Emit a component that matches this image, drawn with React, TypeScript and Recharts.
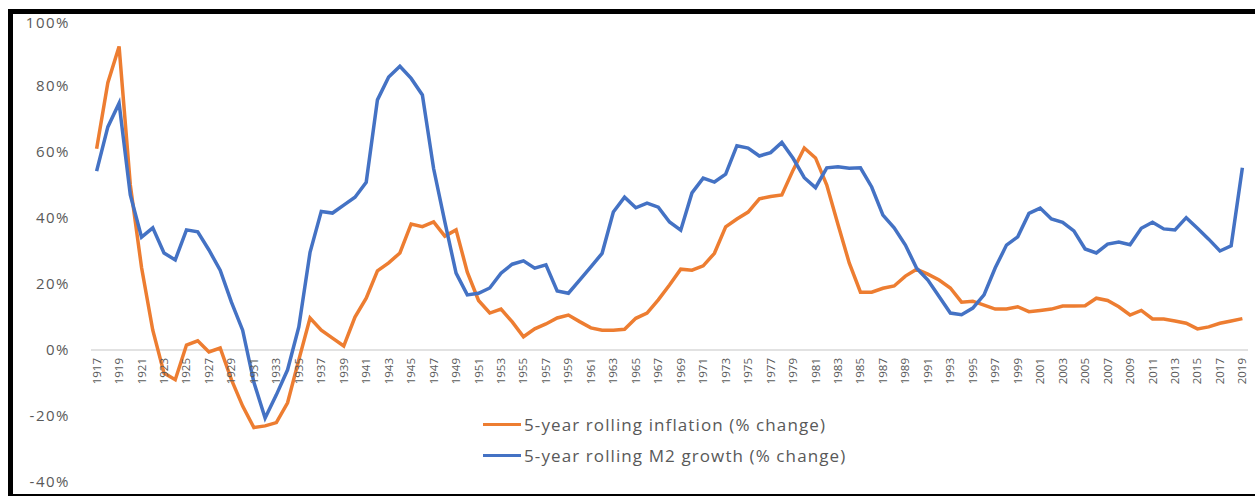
import { LineChart, Line, XAxis, YAxis, ReferenceLine, Legend } from 'recharts'

const years = [
  1917, 1918, 1919, 1920, 1921, 1922, 1923, 1924, 1925, 1926,
  1927, 1928, 1929, 1930, 1931, 1932, 1933, 1934, 1935, 1936,
  1937, 1938, 1939, 1940, 1941, 1942, 1943, 1944, 1945, 1946,
  1947, 1948, 1949, 1950, 1951, 1952, 1953, 1954, 1955, 1956,
  1957, 1958, 1959, 1960, 1961, 1962, 1963, 1964, 1965, 1966,
  1967, 1968, 1969, 1970, 1971, 1972, 1973, 1974, 1975, 1976,
  1977, 1978, 1979, 1980, 1981, 1982, 1983, 1984, 1985, 1986,
  1987, 1988, 1989, 1990, 1991, 1992, 1993, 1994, 1995, 1996,
  1997, 1998, 1999, 2000, 2001, 2002, 2003, 2004, 2005, 2006,
  2007, 2008, 2009, 2010, 2011, 2012, 2013, 2014, 2015, 2016,
  2017, 2018, 2019,
]

// 5-year rolling inflation, % change
const inflation = [
  61, 81, 92, 50, 25, 6, -7, -9, 1.5, 2.8,
  -0.6, 0.6, -9, -17, -23.5, -23, -22, -16, -3, 9.7,
  6, 3.6, 1.2, 10, 15.7, 24, 26.4, 29.4, 38.2, 37.4,
  38.8, 34.5, 36.4, 23.6, 15, 11.2, 12.4, 8.5, 4, 6.4,
  7.9, 9.7, 10.6, 8.6, 6.7, 6, 6, 6.3, 9.6, 11.2,
  15.2, 19.7, 24.5, 24.2, 25.5, 29.3, 37.3, 39.7, 41.8, 45.8,
  46.5, 47, 54.5, 61.2, 58.2, 50, 38, 26.4, 17.5, 17.5,
  18.7, 19.4, 22.4, 24.5, 23, 21.2, 18.8, 14.5, 14.8, 13.6,
  12.4, 12.4, 13.1, 11.6, 12, 12.4, 13.3, 13.3, 13.4, 15.7,
  15, 13.1, 10.6, 12, 9.4, 9.4, 8.8, 8.1, 6.4, 7,
  8.1, 8.8, 9.5,
]

// 5-year rolling M2 growth, % change
const m2 = [
  54.2, 67.6, 74.8, 47, 34.2, 37, 29.4, 27.3, 36.4, 35.8,
  30.3, 24.2, 14.5, 6, -9.8, -20.6, -13.6, -6, 7, 29.6,
  42, 41.5, 43.9, 46.3, 50.8, 75.8, 82.7, 86, 82.3, 77.3,
  55, 38.8, 23.3, 16.7, 17.2, 18.8, 23.3, 26, 27, 24.8,
  25.8, 17.9, 17.2, 21.2, 25.2, 29.3, 41.8, 46.3, 43.1, 44.5,
  43.3, 38.8, 36.3, 47.6, 52.1, 50.9, 53.3, 61.9, 61.2, 58.8,
  59.8, 62.9, 58.1, 52.2, 49.2, 55.2, 55.5, 55.1, 55.2, 49.4,
  40.9, 37, 31.8, 24.8, 21.2, 16.2, 11.2, 10.7, 12.7, 16.7,
  24.9, 31.8, 34.3, 41.4, 43, 39.7, 38.7, 36.1, 30.6, 29.4,
  32.1, 32.7, 31.9, 36.9, 38.7, 36.7, 36.4, 40.1, 36.9, 33.6,
  30, 31.6, 55.2,
]

const seriesOrder = ['inflation', 'm2']
const yTicks = [-40, -20, 0, 20, 40, 60, 80, 100]
const yDomain: [number, number] = [-40, 100]

const data = years.map((year, i) => ({ year, inflation: inflation[i], m2: m2[i] }))
const xTicks = years.filter(y => y % 2 === 1)

const font = '"Open Sans", "DejaVu Sans", sans-serif'
const labelColor = '#595959'

const chartW = 1242
const chartH = 480
const marginTop = 6
const xAxisH = 12
const plotH = chartH - marginTop - xAxisH
// pixel row of the 0% line inside the chart, from the y domain
const zeroY = marginTop + plotH * (yDomain[1] / (yDomain[1] - yDomain[0]))

function YearTick({ x, payload }: any) {
  const ty = zeroY + 8
  return (
    <text x={x} y={ty} transform={`rotate(-90 ${x} ${ty})`} textAnchor="end" dy="0.35em"
      fontSize={11.5} fill={labelColor} fontFamily={font}>
      {payload.value}
    </text>
  )
}

function LegendBox({ payload }: any) {
  const items = [...(payload || [])].sort(
    (a: any, b: any) => seriesOrder.indexOf(a.dataKey) - seriesOrder.indexOf(b.dataKey))
  return (
    <div style={{ fontFamily: font, fontSize: 17, letterSpacing: 1.1, color: labelColor }}>
      {items.map((e: any) => (
        <div key={e.value} style={{ display: 'flex', alignItems: 'center', height: 31, whiteSpace: 'nowrap' }}>
          <span style={{ display: 'inline-block', width: 38, height: 3, background: e.color, marginRight: 3 }} />
          <span>{e.value}</span>
        </div>
      ))}
    </div>
  )
}

export default function App() {
  return (
    <>
      <style>{'body{margin:0} .recharts-surface{overflow:visible}'}</style>
      <div style={{
        marginLeft: 8, marginTop: 9, width: chartW, height: chartH, background: '#fff',
        borderLeft: '5px solid #000', borderTop: '5px solid #000', borderBottom: '2px solid #000',
      }}>
        <LineChart width={chartW} height={chartH} data={data}
          margin={{ top: marginTop, right: 7, bottom: 0, left: 0 }}>
          <XAxis dataKey="year" type="number" domain={[1916.5, 2019.5]} ticks={xTicks} interval={0}
            axisLine={false} tickLine={false} height={xAxisH} tick={<YearTick />} />
          <YAxis domain={yDomain} ticks={yTicks} tickFormatter={v => `${v}%`} width={78}
            axisLine={false} tickLine={false} tickMargin={15}
            tick={{ fill: labelColor, fontSize: 15, fontFamily: font, letterSpacing: 1.5 }} />
          <ReferenceLine y={0} stroke="#d9d9d9" strokeWidth={1.5} />
          <Line type="linear" dataKey="inflation" name="5-year rolling inflation (% change)"
            stroke="#ED7D31" strokeWidth={3.5} dot={false} isAnimationActive={false} />
          <Line type="linear" dataKey="m2" name="5-year rolling M2 growth (% change)"
            stroke="#4472C4" strokeWidth={3.5} dot={false} isAnimationActive={false} />
          <Legend layout="vertical" align="center" verticalAlign="middle" content={<LegendBox />}
            wrapperStyle={{ left: 470, top: 395, width: 420 }} />
        </LineChart>
      </div>
    </>
  )
}
